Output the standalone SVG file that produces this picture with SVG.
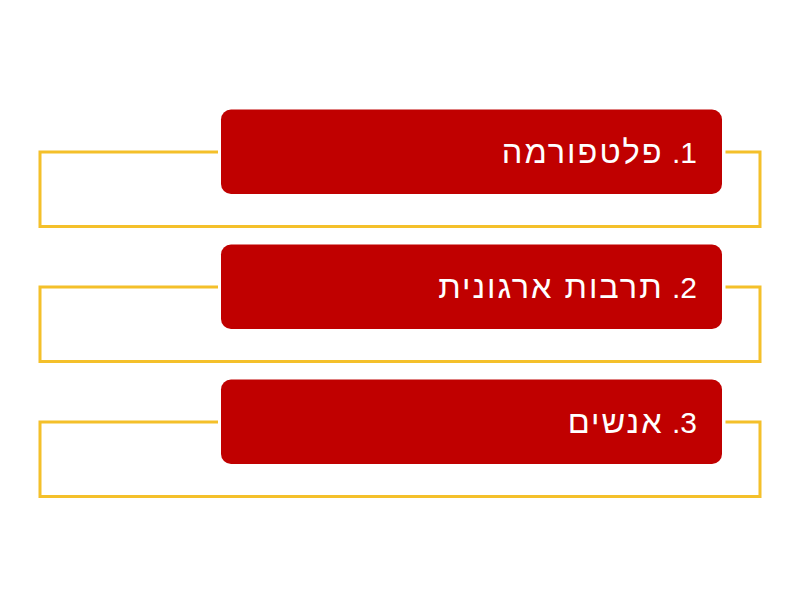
<svg xmlns="http://www.w3.org/2000/svg" width="800" height="600" viewBox="0 0 800 600">
<style>
.box{fill:#C00000}
.lbl{fill:#FFFFFF;font-family:"Liberation Sans","DejaVu Sans",Arial,sans-serif;font-size:30px}
.heb{font-size:32.5px;letter-spacing:2px}
.conn{fill:none;stroke:#F4C02A;stroke-width:3}
</style>
<rect width="800" height="600" fill="#FFFFFF"/>
<g id="connectors">
<path class="conn" d="M218,152 H40 V226.5 H760 V152 H725.5"/>
<path class="conn" d="M218,287 H40 V361.5 H760 V287 H725.5"/>
<path class="conn" d="M218,422 H40 V496.5 H760 V422 H725.5"/>
</g>
<g id="node1">
<rect class="box" x="221" y="109.5" width="501" height="84.5" rx="10"/>
<text class="lbl" x="697" y="163.3" direction="rtl" unicode-bidi="embed" text-anchor="start">1. <tspan class="heb">פלטפורמה</tspan></text>
</g>
<g id="node2">
<rect class="box" x="221" y="244.5" width="501" height="84.5" rx="10"/>
<text class="lbl" x="697" y="298.3" direction="rtl" unicode-bidi="embed" text-anchor="start">2. <tspan class="heb">תרבות ארגונית</tspan></text>
</g>
<g id="node3">
<rect class="box" x="221" y="379.5" width="501" height="84.5" rx="10"/>
<text class="lbl" x="697" y="433.3" direction="rtl" unicode-bidi="embed" text-anchor="start">3. <tspan class="heb">אנשים</tspan></text>
</g>
</svg>
